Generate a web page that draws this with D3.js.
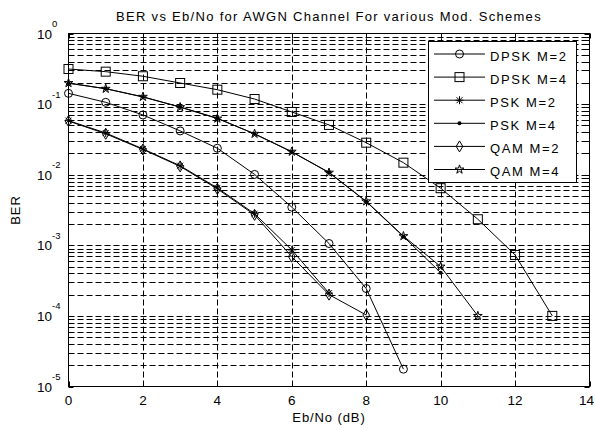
<!DOCTYPE html>
<html>
<head>
<meta charset="utf-8">
<script src="https://cdn.jsdelivr.net/npm/d3@7"></script>
<style>
	body { margin: 0; background: #fff; }
	svg { display: block; font-family: "Liberation Sans", Arial, sans-serif; }
</style>
</head>
<body>
<div id="chart"></div>
<script>
// values (Eb/No in dB, BER)
const ebNo = [0, 1, 2, 3, 4, 5, 6, 7, 8, 9, 10, 11, 12, 13];
const dpskM2 = [0.142, 0.106, 0.0702, 0.0417, 0.0237, 0.0101, 0.00347, 0.00106, 2.44e-4, 1.76e-5];
const dpskM4 = [0.314, 0.288, 0.248, 0.199, 0.160, 0.118, 0.0774, 0.0507, 0.0284, 0.0148, 0.00644, 0.00234, 7.3e-4, 1.0e-4];
const pskM2 = [0.0583, 0.0390, 0.0232, 0.0134, 0.0065, 0.0028, 8.6e-4, 2.1e-4];
const pskM4 = [0.197, 0.1655, 0.126, 0.0911, 0.0630, 0.0378, 0.0210, 0.0108, 0.00416, 0.00133, 4.1e-4];
const qamM2 = [0.0575, 0.0380, 0.0228, 0.0131, 0.0063, 0.0027, 6.9e-4, 2.0e-4, 1.03e-4];
const qamM4 = [0.199, 0.1650, 0.127, 0.0905, 0.0625, 0.0380, 0.0212, 0.0107, 0.0042, 0.00135, 5.0e-4, 1.0e-4];

const seriesNames = ["DPSK M=2", "DPSK M=4", "PSK M=2", "PSK M=4", "QAM M=2", "QAM M=4"];
const seriesValues = [dpskM2, dpskM4, pskM2, pskM4, qamM2, qamM4];
const seriesMarkers = ["circle", "square", "asterisk", "dot", "diamond", "pentagram"];

const xTicks = [0, 2, 4, 6, 8, 10, 12, 14];
const yTicks = [1, 1e-1, 1e-2, 1e-3, 1e-4, 1e-5];
const yTickExp = ["0", "-1", "-2", "-3", "-4", "-5"];

const width = 595, height = 430;
const margin = { top: 33.5, right: 5.5, bottom: 43.5, left: 68.5 };

const svg = d3.select("#chart")
	.append("svg")
	.attr("width", width)
	.attr("height", height);

const x = d3.scaleLinear().domain([0, 14]).range([margin.left, width - margin.right]);
const y = d3.scaleLog().domain([1e-5, 1]).range([height - margin.bottom, margin.top]);

const x0 = x.range()[0], x1 = x.range()[1];
const y0 = y.range()[0], y1 = y.range()[1];

svg.append("rect")
	.attr("x", x0).attr("y", y1)
	.attr("width", x1 - x0).attr("height", y0 - y1)
	.attr("fill", "#fff");

// dashed grid, minor lines on the log axis too
const grid = svg.append("g").attr("stroke", "#000").attr("stroke-width", 1).attr("stroke-dasharray", "6,3");
grid.selectAll(".hgrid")
	.data(y.ticks().filter(d => d > 1e-5 && d < 1))
	.join("line")
	.attr("class", "hgrid")
	.attr("x1", x0).attr("x2", x1)
	.attr("y1", d => Math.round(y(d)) + 0.5).attr("y2", d => Math.round(y(d)) + 0.5);
grid.selectAll(".vgrid")
	.data(xTicks.filter(d => d > 0 && d < 14))
	.join("line")
	.attr("class", "vgrid")
	.attr("y1", y0).attr("y2", y1)
	.attr("x1", d => Math.round(x(d)) + 0.5).attr("x2", d => Math.round(x(d)) + 0.5);

// ticks inside on all four sides
const ticks = svg.append("g").attr("stroke", "#000");
xTicks.forEach(t => {
	const px = Math.round(x(t)) + 0.5;
	ticks.append("line").attr("x1", px).attr("x2", px).attr("y1", y0).attr("y2", y0 - 5);
	ticks.append("line").attr("x1", px).attr("x2", px).attr("y1", y1).attr("y2", y1 + 5);
});
y.ticks().forEach(t => {
	const py = Math.round(y(t)) + 0.5;
	const len = yTicks.includes(t) ? 5 : 3;
	ticks.append("line").attr("y1", py).attr("y2", py).attr("x1", x0).attr("x2", x0 + len);
	ticks.append("line").attr("y1", py).attr("y2", py).attr("x1", x1).attr("x2", x1 - len);
});

svg.append("rect")
	.attr("x", x0).attr("y", y1)
	.attr("width", x1 - x0).attr("height", y0 - y1)
	.attr("fill", "none").attr("stroke", "#000");

// tick labels (last one pulled in so it stays on the page)
svg.append("g")
	.selectAll("text")
	.data(xTicks)
	.join("text")
	.attr("x", d => d === 14 ? width - 1 : x(d))
	.attr("y", y0 + 18.5)
	.attr("text-anchor", d => d === 14 ? "end" : "middle")
	.attr("font-size", 13.5)
	.text(d => d);

const ylab = svg.append("g").attr("font-size", 13.5);
yTicks.forEach((t, i) => {
	ylab.append("text")
		.attr("x", 52).attr("y", y(t) + 5)
		.attr("text-anchor", "end")
		.text("10");
	ylab.append("text")
		.attr("x", 52).attr("y", y(t) - 6.5)
		.attr("font-size", 9.5)
		.text(yTickExp[i]);
});

// title and axis labels
svg.append("text")
	.attr("x", (x0 + x1) / 2).attr("y", 21)
	.attr("text-anchor", "middle")
	.attr("font-size", 13)
	.attr("letter-spacing", 1.3)
	.text("BER vs Eb/No for AWGN Channel For various Mod. Schemes");

svg.append("text")
	.attr("x", (x0 + x1) / 2).attr("y", 422)
	.attr("text-anchor", "middle")
	.attr("font-size", 13)
	.attr("letter-spacing", 0.9)
	.text("Eb/No (dB)");

svg.append("text")
	.attr("transform", `translate(20,${(y0 + y1) / 2}) rotate(-90)`)
	.attr("text-anchor", "middle")
	.attr("font-size", 13)
	.attr("letter-spacing", 0.9)
	.text("BER");

// markers
function drawMarker(g, kind) {
	if (kind === "circle") {
		g.append("circle").attr("r", 4).attr("fill", "none").attr("stroke", "#000");
	} else if (kind === "square") {
		g.append("rect").attr("x", -4.5).attr("y", -4.5).attr("width", 9).attr("height", 9)
			.attr("fill", "none").attr("stroke", "#000");
	} else if (kind === "diamond") {
		g.append("path").attr("d", "M0,-5.5L3.3,0L0,5.5L-3.3,0Z").attr("fill", "none").attr("stroke", "#000");
	} else if (kind === "asterisk") {
		g.append("path").attr("d", "M-4,0H4M0,-4V4M-3,-3L3,3M-3,3L3,-3").attr("stroke", "#000");
	} else if (kind === "dot") {
		g.append("circle").attr("r", 2).attr("fill", "#000");
	} else if (kind === "pentagram") {
		g.append("path").attr("d", d3.symbol(d3.symbolStar, 24)()).attr("fill", "none").attr("stroke", "#000");
	}
}

const line = d3.line()
	.defined(d => d.v != null)
	.x(d => x(d.x))
	.y(d => y(d.v));

seriesValues.forEach((vals, i) => {
	const pts = vals.map((v, j) => ({ x: ebNo[j], v: v }));
	const g = svg.append("g").attr("class", "series");
	g.append("path")
		.datum(pts)
		.attr("d", line)
		.attr("fill", "none")
		.attr("stroke", "#000")
		.attr("stroke-width", 1);
	pts.forEach(p => {
		const m = g.append("g").attr("transform", `translate(${x(p.x)},${y(p.v)})`);
		drawMarker(m, seriesMarkers[i]);
	});
});

// legend
const legend = svg.append("g");
legend.append("rect")
	.attr("x", 428.5).attr("y", 41.5)
	.attr("width", 148).attr("height", 141)
	.attr("fill", "#fff").attr("stroke", "#000");
seriesNames.forEach((name, i) => {
	const ly = 54 + i * 23.1;
	legend.append("line")
		.attr("x1", 434).attr("x2", 485)
		.attr("y1", ly).attr("y2", ly)
		.attr("stroke", "#000");
	drawMarker(legend.append("g").attr("transform", `translate(459.5,${ly})`), seriesMarkers[i]);
	legend.append("text")
		.attr("x", 490).attr("y", ly + 6.5)
		.attr("font-size", 13)
		.attr("letter-spacing", 1.6)
		.text(name);
});
</script>
</body>
</html>
